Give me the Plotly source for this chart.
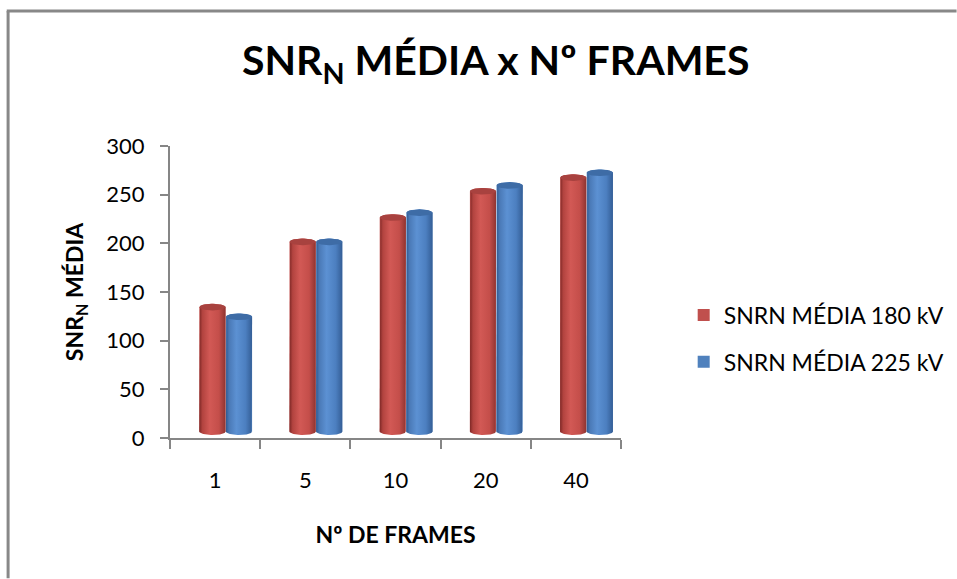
import numpy as np
import plotly.graph_objects as go

# Data
frames = ["1", "5", "10", "20", "40"]
snr_180 = [128, 195, 220, 247, 261]
snr_225 = [118, 195, 225, 253, 266]
series_names = ["SNRN MÉDIA 180 kV", "SNRN MÉDIA 225 kV"]

# Styling for the pseudo-3D cylinders
FLOOR = 6.5          # floor lift of the 3D column base (value units)
RY = 3.4             # half-height of the elliptical caps (value units)
BAR_W = 0.29         # column width (category units)
OFFSETS = [-0.03, 0.265]
BASE_COLORS = ["#C0504D", "#4F81BD"]
CAP_COLORS = ["#A8423F", "#3E6CA6"]
GRADIENTS = [
    [[0.0, "#7E2826"], [0.12, "#B2433F"], [0.4, "#D25955"], [0.75, "#C44E4A"], [1.0, "#8F3431"]],
    [[0.0, "#30598F"], [0.12, "#4A79B6"], [0.4, "#5C91D3"], [0.75, "#4C7FC0"], [1.0, "#345E96"]],
]

x_pos = np.arange(len(frames))
fig = go.Figure()

# Flat base columns (also provide the legend swatches)
for name, vals, col, off, grp in zip(series_names, [snr_180, snr_225], BASE_COLORS, OFFSETS, ["a", "b"]):
    fig.add_trace(go.Bar(
        x=x_pos + off, y=vals, base=FLOOR, width=BAR_W, name=name,
        marker=dict(color=col, line=dict(width=0)), legendgroup=grp,
        hoverinfo="skip",
    ))

# Shaded cylinder bodies and top caps
t_half = np.linspace(0, np.pi, 40)
t_full = np.linspace(0, 2 * np.pi, 80)
for si, vals in enumerate([snr_180, snr_225]):
    for xi, v in zip(x_pos, vals):
        cx = xi + OFFSETS[si]
        rx = BAR_W / 2
        top = FLOOR + v
        # silhouette: left edge up, back arc of top, right edge down, front arc of bottom
        top_arc_x = cx - rx * np.cos(t_half)
        top_arc_y = top + RY * np.sin(t_half)
        bot_arc_x = cx + rx * np.cos(t_half)
        bot_arc_y = FLOOR - RY * np.sin(t_half)
        bx = np.concatenate([[cx - rx], top_arc_x, [cx + rx], bot_arc_x])
        by = np.concatenate([[FLOOR], top_arc_y, [FLOOR], bot_arc_y])
        fig.add_trace(go.Scatter(
            x=bx, y=by, mode="lines", line=dict(width=0), fill="toself",
            fillgradient=dict(type="horizontal", colorscale=GRADIENTS[si]),
            showlegend=False, hoverinfo="skip",
        ))
        fig.add_trace(go.Scatter(
            x=cx + rx * np.cos(t_full), y=top + RY * np.sin(t_full),
            mode="lines", line=dict(width=0), fill="toself",
            fillcolor=CAP_COLORS[si], showlegend=False, hoverinfo="skip",
        ))

FONT = "Lato"
FRAME = dict(color="#888888", width=3)
fig.update_layout(
    width=957, height=579,
    margin=dict(l=170, r=336, t=146, b=141, autoexpand=False),
    paper_bgcolor="white", plot_bgcolor="white",
    barmode="overlay",
    font=dict(family=FONT, color="black"),
    title=dict(
        text="<b>SNR<sub>N</sub> MÉDIA x Nº FRAMES</b>",
        x=0.518, xanchor="center", y=0.895, yanchor="middle",
        font=dict(family=FONT, size=41, color="black"),
    ),
    xaxis=dict(
        range=[-0.5, 4.5], tickmode="array", tickvals=list(x_pos), ticktext=frames,
        ticks="", showgrid=False, zeroline=False,
        showline=True, linecolor="#868686", linewidth=2,
        minor=dict(tick0=-0.5, dtick=1, ticks="outside", ticklen=9,
                   tickcolor="#868686", tickwidth=2, showgrid=False),
        tickfont=dict(size=22), ticklabelstandoff=22,
        title=dict(text="<b>Nº DE FRAMES</b>", font=dict(size=23), standoff=34),
    ),
    yaxis=dict(
        range=[0, 300], tickmode="linear", tick0=0, dtick=50,
        ticks="outside", ticklen=8, tickcolor="#868686", tickwidth=2,
        showgrid=False, zeroline=False,
        showline=True, linecolor="#868686", linewidth=2,
        tickfont=dict(size=22), ticklabelstandoff=11,
        title=dict(text="<b>SNR<sub>N</sub> MÉDIA</b>", font=dict(size=23), standoff=16),
    ),
    legend=dict(
        x=1.139, y=0.495, xanchor="left", yanchor="top",
        font=dict(size=23), tracegroupgap=14, itemwidth=30,
        bgcolor="rgba(0,0,0,0)",
    ),
    # outer chart frame: only the left and top edges fall inside the page
    shapes=[
        dict(type="line", xref="paper", yref="paper",
             x0=-0.359, y0=-0.48, x1=-0.359, y1=1.462, line=FRAME, layer="below"),
        dict(type="line", xref="paper", yref="paper",
             x0=-0.362, y0=1.462, x1=1.744, y1=1.462, line=FRAME, layer="below"),
    ],
)

fig.write_html("out.html")
